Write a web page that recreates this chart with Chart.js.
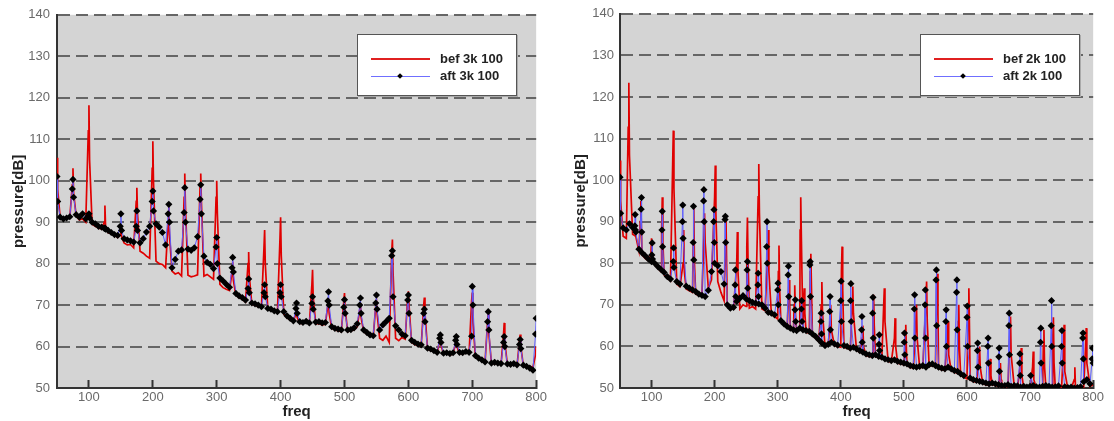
<!DOCTYPE html>
<html><head><meta charset="utf-8">
<script src="https://cdn.jsdelivr.net/npm/chart.js@4.4.1/dist/chart.umd.min.js"></script>
<style>
html,body{margin:0;padding:0;background:#fff}
body{width:1114px;height:421px;overflow:hidden;position:relative;font-family:"Liberation Sans",Arial,sans-serif}
canvas{position:absolute;top:0}
.legend{position:absolute;top:34px;width:158px;height:60px;background:#fff;border:1px solid #555;box-shadow:1px 1px 0 #aaa}
.sw{position:absolute;left:13px;width:59px}
.lbl{position:absolute;left:82px;font-weight:bold;font-size:13px;color:#222;line-height:16px;white-space:nowrap}
.dia{position:absolute;width:4px;height:4px;background:#000;transform:rotate(45deg)}
</style>
</head><body>
<canvas id="cL" width="557" height="421" style="left:0"></canvas>
<canvas id="cR" width="557" height="421" style="left:557px"></canvas>
<div class="legend" style="left:357px">
  <div class="sw" style="top:23px;height:2px;background:#e02020"></div>
  <div class="lbl" id="lb1" style="top:16px"></div>
  <div class="sw" style="top:41px;height:1px;background:#6f6fff"></div>
  <div class="dia" style="left:40px;top:39px"></div>
  <div class="lbl" id="lb2" style="top:33px"></div>
</div>
<div class="legend" style="left:920px">
  <div class="sw" style="top:23px;height:2px;background:#e02020"></div>
  <div class="lbl" id="lb3" style="top:16px"></div>
  <div class="sw" style="top:41px;height:1px;background:#6f6fff"></div>
  <div class="dia" style="left:40px;top:39px"></div>
  <div class="lbl" id="lb4" style="top:33px"></div>
</div>
<script>
// ---------- labels / ticks ----------
const seriesLabelsL = ['bef 3k 100', 'aft 3k 100'];
const seriesLabelsR = ['bef 2k 100', 'aft 2k 100'];
const xTicks = [100, 200, 300, 400, 500, 600, 700, 800];
const yTicks = [50, 60, 70, 80, 90, 100, 110, 120, 130, 140];
const xTitle = 'freq';
const yTitle = 'pressure[dB]';

// ---------- left chart (3k) : shared frequency axis ----------
const freqL = [
 50,51,55,60,65,70,
 74,75,76,80,85,90,95,
 99,100,101,105,110,115,120,
 124,125,126,130,135,140,145,
 149,150,151,155,160,165,170,
 174,175,176,180,185,190,195,
 199,200,201,205,210,215,220,
 224,225,226,230,235,240,245,
 249,250,251,255,260,265,270,
 274,275,276,280,285,290,295,
 299,300,301,305,310,315,320,
 324,325,326,330,335,340,345,
 349,350,351,355,360,365,370,
 374,375,376,380,385,390,395,
 399,400,401,405,410,415,420,
 424,425,426,430,435,440,445,
 449,450,451,455,460,465,470,
 474,475,476,480,485,490,495,
 499,500,501,505,510,515,520,
 524,525,526,530,535,540,545,
 549,550,551,555,560,565,570,
 574,575,576,580,585,590,595,
 599,600,601,605,610,615,620,
 624,625,626,630,635,640,645,
 649,650,651,655,660,665,670,
 674,675,676,680,685,690,695,
 699,700,701,705,710,715,720,
 724,725,726,730,735,740,745,
 749,750,751,755,760,765,770,
 774,775,776,780,785,790,795,
 799,800
];
const befL = [
 105.5,98,91.0,90.5,91.2,91.0,
 99,103,97,91.5,90.5,90.8,90.0,
 112,118.2,105,89.5,89.0,88.6,88.3,
 90,94,89,87.5,87.2,86.8,86.3,
 87,88,86.5,85.0,84.5,84.6,83.8,
 95,98.3,92,83.0,82.5,81.8,81.3,
 103,109.5,100,80.6,80.0,79.8,79.0,
 90,94,87,78.2,77.5,77.8,77.0,
 96,101.7,94,77.2,76.8,77.0,77.3,
 99,101.7,95,77.0,77.4,76.8,76.2,
 96,100,92,75.0,74.2,73.8,73.5,
 78,80.5,76,72.4,71.8,71.4,70.8,
 80,82.8,77,70.2,70.0,69.6,69.4,
 84,88.1,80,69.0,68.8,68.5,68.2,
 86,91.2,82,67.8,67.0,66.4,66.0,
 68,69.5,67,65.6,65.5,65.8,65.4,
 75,78.5,72,65.5,65.6,65.2,65.4,
 70,71.5,68,64.5,64.0,63.8,63.6,
 71,72.9,69,63.6,63.8,64.0,64.8,
 69,70.5,67,63.6,63.0,62.6,62.4,
 70,71,68,62.0,61.5,62.5,61.0,
 83,85.8,78,62.0,61.4,62.2,61.8,
 72,73.3,70,61.0,60.5,60.2,60.0,
 70,71.8,68,59.4,59.0,58.8,58.4,
 61.5,62,60.5,58.2,58.3,58.0,58.2,
 61,61.8,60,58.3,58.2,58.5,58.3,
 71,73,66,57.5,57.0,56.6,56.2,
 66,68.4,63,56.0,55.8,55.9,55.6,
 63,65.7,61,55.6,55.4,55.7,55.3,
 61.5,62.9,60,55.3,55.0,55.2,55.0,
 58,60
];
const aftL = [
 101,95,91.2,90.8,91.0,91.3,
 98,100.3,96,91.8,91.2,92.0,90.8,
 91.5,92,91,90.0,89.6,89.0,88.8,
 88.5,88.6,88.3,88.0,87.5,87.0,86.8,
 89,92,88,86.0,85.7,85.5,85.2,
 89,92.7,88,85.0,86.0,87.6,89.0,
 95,97.5,92.7,89.6,88.8,87.5,84.5,
 92,94.3,90,79.0,81.0,83.0,83.3,
 92.3,98.3,90,83.5,83.2,83.8,86.5,
 95.5,99,92,81.8,80.3,79.8,78.8,
 84,86.3,80,76.5,75.8,75.0,74.3,
 79,81.5,78,72.8,72.2,71.8,71.2,
 74,76.3,73,70.5,70.3,70.0,69.6,
 73,74.9,72,69.2,69.0,68.6,68.4,
 73,74.9,72,68.4,67.4,66.8,66.2,
 69.2,70.5,68,66.0,65.8,66.1,65.7,
 70.4,72,69,65.9,66.0,65.7,65.8,
 71,73.2,70,64.8,64.4,64.2,64.0,
 69.5,71.3,68,64.0,64.1,64.5,65.5,
 70,71.7,68,64.0,63.4,62.8,62.6,
 70.5,72.4,69,64.0,65.2,66.0,66.8,
 81.9,83.1,72,65.0,64.0,63.0,62.6,
 71.2,72.4,68,61.5,61.0,60.6,60.4,
 68,69,66,59.6,59.4,59.0,58.6,
 62,62.8,61,58.4,58.5,58.3,58.5,
 61.5,62.4,60.5,58.6,58.5,58.8,58.6,
 62.5,74.5,70,57.8,57.2,56.8,56.3,
 66,68.4,64,56.0,56.2,56.0,55.9,
 61,62.4,60,55.8,55.7,55.9,55.6,
 60.5,61.7,59.5,55.5,55.2,54.8,54.3,
 63,66.8
];

// ---------- right chart (2k) ----------
const freqBefR = [
 50,51,55,60,63,64,65,70,75,80,82,83,84,85,90,95,99,
 100,101,105,110,115,116,117,118,120,125,130,133.5,134.5,135.5,140,145,
 150,151,152,155,160,165,166,167,168,170,175,180,183,184,185,190,195,
 200,201,202,205,210,215,217,218,219,220,225,230,235,236,237,240,245,
 250,251,252,253,255,260,265,269,270,271,275,280,284,285,286,290,295,
 300,301,302,303,305,310,315,317,318,319,320,325,326,327,328,330,335,335.5,336.5,337.5,340,341,342,343,345,
 350,351.5,352.5,353.5,355,360,365,369,370,371,375,380,383,384,385,390,395,
 400,401,402,403,405,410,415,418,419,420,425,430,434,435,436,440,445,
 450,451,452,453,455,460,465,468,469,470,475,480,485,486,487,490,495,
 500,502,503,504,505,510,515,519,520,521,525,530,535,536,537,540,545,
 550,552,553,554,555,560,565,569,570,571,575,580,585,586,587,588,590,595,
 600,602,603,604,605,610,615,619,620,621,625,630,635,636,637,638,640,645,
 650,652,653,654,655,660,665,668,669,670,675,680,685,686,687,690,695,
 700,704,705,706,710,715,720,721,722,723,725,730,735,736,737,738,740,745,
 750,753,754,755,760,765,770,771,772,775,780,785,788,789,790,795,800
];
const befR = [
 104.7,95,86.5,86.0,112.7,123.4,106,87.0,86.5,83.0,90,95,88,82.0,81.2,80.6,82,
 86,82,79.6,78.8,78.0,88,95.9,85,77.2,76.4,75.8,104,111.9,98,75.0,74.4,
 80,88,78,73.8,73.4,73.0,85,93.5,80,72.6,72.2,73.0,86,92,85,74.0,76.0,
 96,103.5,92,75.6,73.0,71.0,85,91,80,69.8,69.2,69.0,80,87.5,78,69.0,70.0,
 69.6,84,91,80,69.2,69.6,69.0,96,103.9,92,69.0,68.6,82,88,78,67.6,67.2,
 66.6,78,84.3,74,66.0,65.2,64.6,72,76,70,64.2,63.8,70,74.7,68,63.6,64.0,88,95.9,86,63.6,70,74,68,63.4,
 63.2,78,82.3,74,62.6,62.0,61.2,70,75.5,68,60.0,60.2,66,70,64,60.2,60.0,
 59.8,78,84,74,59.8,59.6,59.2,70,74.4,68,59.0,58.6,62,65,60,57.8,57.6,
 57.4,68,72.4,65,57.6,57.2,57.0,70,74,66,56.4,56.2,62,66.8,60,56.0,55.8,
 55.6,61,65.2,59,55.4,55.0,54.8,66,70,62,54.8,55.0,71,75.6,66,55.2,55.4,
 55.0,74,77.5,68,54.6,54.4,54.2,62,66,58,54.2,53.8,53.6,66,70,60,53.0,52.6,
 52.2,70,74,64,52.0,51.6,51.4,57,60,55,51.0,50.8,50.6,54,57,53,50.8,50.6,
 50.4,54,56,52,50.2,50.2,50.4,63,67.2,58,50.2,50.1,56,59.6,53,50.0,49.8,
 50.0,55,58.8,52,49.9,49.8,50.0,60,64,55,50.2,50.0,49.8,62,67,56,49.9,50.1,
 50.2,60,65.2,54,49.7,49.8,52,55,50,49.7,49.9,50.2,60,64.4,56,50.4,50.8
];
const freqAftR = [
 50,51,55,60,65,70,73.5,74,74.5,75,80,83.5,84,84.5,85,90,95,
 100,100.5,101,101.5,105,110,115,116.5,117,117.5,120,125,130,134.5,135,135.5,140,145,149,149.5,
 150,155,160,165,166,166.5,167,170,175,180,182.5,183,183.5,185,190,195,198.5,199,199.5,
 200,205,210,215,216.5,217,217.5,220,225,230,232.5,233,233.5,235,240,245,
 250,251.5,252,252.5,255,260,265,268.5,269,269.5,270,275,280,282.5,283,283.5,285,290,295,
 300,300.5,301,305,310,315,316.5,317,317.5,320,325,327.5,328,328.5,330,335,337.5,338,338.5,340,345,
 350,351,351.5,352,355,360,365,368.5,369,369.5,370,375,380,382.5,383,383.5,385,390,395,
 400,400.5,401,405,410,415,415.5,416,416.5,420,425,430,433,433.5,434,435,440,445,
 450,450.5,451,451.5,455,460,460.5,461,461.5,465,470,475,480,485,490,495,
 500,500.5,501,501.5,505,510,515,516.5,517,517.5,520,525,530,533.5,534,534.5,535,540,545,
 550,551,551.5,552,555,560,565,566.5,567,567.5,570,575,580,583.5,584,584.5,585,590,595,
 600,600.5,601,605,610,615,616.5,617,617.5,620,625,630,633,633.5,634,635,640,645,
 650,650.5,651,651.5,655,660,665,666.5,667,667.5,670,675,680,683.5,684,684.5,685,690,695,
 700,701,705,710,715,716.5,717,717.5,720,725,730,733.5,734,734.5,735,740,745,
 750,750.5,751,755,760,765,770,775,780,783.5,784,784.5,785,790,795,798.5,799,800
];
const aftR = [
 100.7,92,88.5,88.0,89.5,88.6,89,91.7,88,87.5,83.4,93,95.8,87.5,82.5,81.8,81.0,
 80.4,82,84.9,81,80.0,79.2,78.5,88,92.5,84,77.8,76.8,76.2,80.4,83.7,79,75.6,75.0,90,94,
 86,74.5,74.0,73.6,85,93.7,80.8,73.2,72.6,72.3,95,97.7,90,72.0,73.5,78.0,90,92.9,85,
 80.0,79.4,78.0,75.0,90.5,91.3,85,70.0,69.2,69.4,74.8,78.4,72,70.8,71.6,72.2,
 71.4,78.4,80.4,74,71.0,70.6,70.4,74.8,77.6,72,70.2,70.0,69.2,84,90,80,68.2,68.0,67.6,
 73.6,75.2,70,66.2,65.4,64.8,77.2,79.3,72,64.4,64.0,68.8,71.2,66,63.8,64.4,69,71,66,64.0,63.8,
 63.6,79.6,80.4,72,63.0,62.4,61.6,66,68,63,60.8,60.2,60.5,68.4,72,64,61.0,60.6,60.3,
 71,75.7,66,60.2,60.0,59.6,71,75.1,66,59.8,59.4,59.0,64,67.2,61,58.6,58.2,58.0,
 57.8,68,71.8,62,58.0,57.6,60.5,62.8,59,57.4,57.0,56.8,56.6,56.8,56.4,56.2,
 56.0,61,63.2,58,55.8,55.4,55.2,69,72.4,62,55.0,55.2,55.4,70,73.6,62,55.0,55.6,55.8,
 55.4,76,78.4,65,55.0,54.8,54.6,66,68.8,60,55.0,54.6,54.2,73,76,64,54.0,53.4,53.0,
 67,69.7,60,52.4,52.0,51.8,59,60.8,55,51.6,51.4,51.2,60,62,56,51.0,51.2,51.0,
 50.8,57.5,59.6,54,50.6,50.6,50.8,65,68,58,50.4,50.6,50.5,56,58.2,53,50.2,50.4,50.2,
 50.4,53,50.6,50.3,50.2,61,64.4,56,50.4,50.6,50.4,65,71,60,50.2,50.3,50.5,
 60,63.8,56,50.3,50.1,50.2,50.0,50.1,50.3,62,63.2,57,51.5,52.0,51.0,57,59.6,56
];

// ---------- styling ----------
const FONT = '"Liberation Sans", Arial, sans-serif';
const BEF_COLOR = '#e00000';
const AFT_COLOR = '#5c5cff';
Chart.defaults.font.family = FONT;

document.getElementById('lb1').textContent = seriesLabelsL[0];
document.getElementById('lb2').textContent = seriesLabelsL[1];
document.getElementById('lb3').textContent = seriesLabelsR[0];
document.getElementById('lb4').textContent = seriesLabelsR[1];

const plotBg = {
  id: 'plotBg',
  beforeDraw(c) {
    const {ctx, chartArea: a} = c;
    ctx.save();
    ctx.fillStyle = '#d4d4d4';
    ctx.fillRect(a.left, a.top, a.right - a.left, a.bottom - a.top);
    ctx.restore();
  }
};

const pts = (xs, ys) => xs.map((x, i) => ({x: x, y: ys[i]}));

function build(id, o) {
  return new Chart(document.getElementById(id), {
    type: 'line',
    data: {
      datasets: [
        { label: o.labels[1], data: pts(o.aftX, o.aftY), borderColor: AFT_COLOR, borderWidth: 1,
          pointStyle: 'rectRot', pointRadius: 3.6, pointBackgroundColor: '#000', pointBorderColor: '#000',
          pointBorderWidth: 0, tension: 0, order: 0 },
        { label: o.labels[0], data: pts(o.befX, o.befY), borderColor: BEF_COLOR, borderWidth: 1.7,
          pointRadius: 0, tension: 0, order: 1 }
      ]
    },
    options: {
      responsive: false,
      animation: false,
      events: [],
      layout: { padding: { top: 12, right: o.padRight, left: 0, bottom: 0 } },
      plugins: { legend: { display: false }, tooltip: { enabled: false } },
      scales: {
        x: {
          type: 'linear', min: 50, max: 800,
          afterBuildTicks: s => { s.ticks = xTicks.map(v => ({value: v})); },
          afterFit: s => { s.height = 33; },
          ticks: { color: '#6a6a6a', font: { size: 13 }, padding: 10, maxRotation: 0, autoSkip: false },
          grid: { display: true, drawOnChartArea: false, drawTicks: true, tickLength: -8, tickWidth: 2, tickColor: '#333' },
          border: { display: true, color: '#333', width: 2 },
          title: { display: true, text: xTitle, color: '#222', font: { size: 15, weight: 'bold' }, padding: { top: 0, bottom: 0 } }
        },
        y: {
          type: 'linear', min: 50, max: 140,
          afterBuildTicks: s => { s.ticks = yTicks.map(v => ({value: v})); },
          afterFit: s => { s.width = o.yWidth; },
          ticks: { color: '#6a6a6a', font: { size: 13 }, padding: o.yPad },
          grid: { color: '#666', lineWidth: 2, drawTicks: false },
          border: { display: true, color: '#333', width: 2, dash: [12, 6] },
          title: { display: true, text: yTitle, color: '#222', font: { size: 15, weight: 'bold' }, padding: { top: o.yTitlePad, bottom: 0 } }
        }
      }
    },
    plugins: [plotBg]
  });
}

build('cL', { labels: seriesLabelsL, befX: freqL, befY: befL, aftX: freqL, aftY: aftL,
  padRight: 19, yWidth: 57, yPad: 7, yTitlePad: 10 });
build('cR', { labels: seriesLabelsR, befX: freqBefR, befY: befR, aftX: freqAftR, aftY: aftR,
  padRight: 14, yWidth: 63, yPad: 6, yTitlePad: 15 });
</script>
</body></html>
